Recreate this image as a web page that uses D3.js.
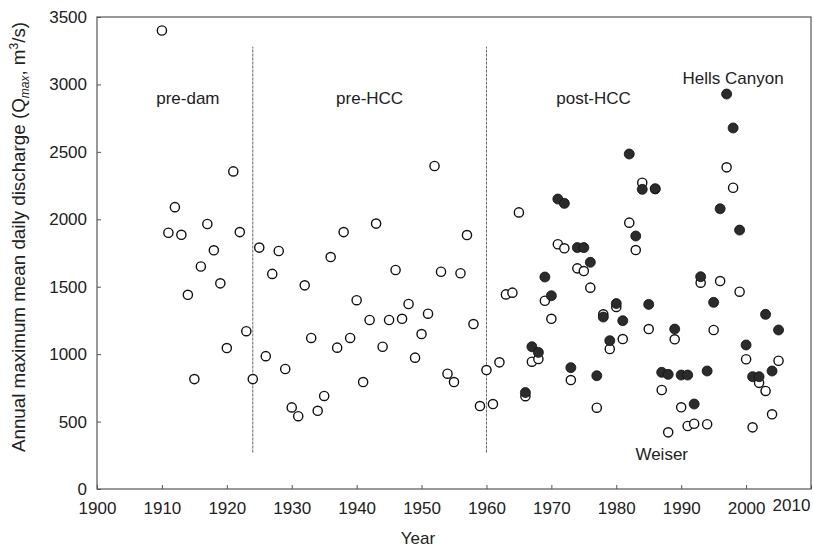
<!DOCTYPE html>
<html>
<head>
<meta charset="utf-8">
<script src="https://cdn.jsdelivr.net/npm/d3@7"></script>
<style>
    body { margin: 0; background: #fff; }
    svg text { font-family: "Liberation Sans", Arial, sans-serif; fill: #222; }
</style>
</head>
<body>
<svg id="chart" width="814" height="550"></svg>
<script>
// Weiser gauge (open circles), one value per year from 1910
var weiserStart = 1910;
var weiserValues = [
    3400, 1900, 2090, 1885, 1440, 815, 1650, 1965, 1770, 1525,   // 1910s
    1045, 2355, 1905, 1170, 815, 1790, 985, 1595, 1765, 890,     // 1920s
    605, 540, 1510, 1120, 580, 690, 1720, 1048, 1905, 1120,      // 1930s
    1400, 793, 1253, 1968, 1055, 1253, 1624, 1262, 1372, 974,    // 1940s
    1149, 1300, 2395, 1611, 855, 793, 1600, 1883, 1223, 615,     // 1950s
    882, 630, 939, 1443, 1456, 2051, 688, 944, 964, 1396,        // 1960s
    1262, 1815, 1785, 808, 1636, 1616, 1493, 603, 1295, 1038,    // 1970s
    1350, 1112, 1975, 1772, 2271, 1186, 2225, 734, 420, 1110,    // 1980s
    606, 467, 484, 1530, 480, 1179, 1542, 2385, 2234, 1463,      // 1990s
    962, 457, 787, 727, 554, 951                                 // 2000s
];

// Hells Canyon gauge (filled circles), one value per year from 1966
var hellsStart = 1966;
var hellsValues = [
    715, 1055, 1013, 1572,                                       // 1966-69
    1433, 2150, 2118, 900, 1790, 1790, 1681, 840, 1275, 1100,    // 1970s
    1375, 1248, 2484, 1876, 2222, 1369, 2227, 865, 850, 1186,    // 1980s
    845, 845, 630, 1574, 875, 1384, 2078, 2929, 2677, 1920,      // 1990s
    1068, 833, 833, 1295, 875, 1179                              // 2000s
];

// period boundaries and labels
var dividers = [1924, 1960];
var dividerRange = [270, 3280];
var periods = [
    { text: "pre-dam", year: 1914, value: 2855 },
    { text: "pre-HCC", year: 1942, value: 2855 },
    { text: "post-HCC", year: 1976.5, value: 2855 }
];
var seriesLabels = [
    { text: "Hells Canyon", year: 1998, value: 3000 },
    { text: "Weiser", year: 1987, value: 215 }
];

var xTicks = [1900, 1910, 1920, 1930, 1940, 1950, 1960, 1970, 1980, 1990, 2000, 2010];
var yTicks = [0, 500, 1000, 1500, 2000, 2500, 3000, 3500];

var plotLeft = 97, plotRight = 811, plotTop = 17, plotBottom = 489;

var svg = d3.select("#chart");

var x = d3.scaleLinear().domain([1900, 2010]).range([plotLeft, plotRight]);
var y = d3.scaleLinear().domain([0, 3500]).range([plotBottom, plotTop]);

// frame
svg.append("rect")
    .attr("x", plotLeft).attr("y", plotTop)
    .attr("width", plotRight - plotLeft).attr("height", plotBottom - plotTop)
    .attr("fill", "none")
    .attr("stroke", "#555")
    .attr("stroke-width", 1.2);

// x axis
var xAxis = svg.append("g")
    .attr("transform", "translate(0," + plotBottom + ")")
    .call(d3.axisBottom(x).tickValues(xTicks).tickFormat(d3.format("d"))
        .tickSizeInner(-4).tickSizeOuter(0).tickPadding(13));
xAxis.select(".domain").remove();
xAxis.selectAll("line").attr("stroke", "#555");
xAxis.selectAll("text")
    .attr("font-size", "17px")
    .attr("font-family", "Liberation Sans, Arial, sans-serif")
    .attr("fill", "#222")
    .attr("dx", function (d) { return d === 2010 ? -20 : 0; })
    .attr("dy", function (d) { return d === 2010 ? "0.5em" : "0.71em"; });

// y axis
var yAxis = svg.append("g")
    .attr("transform", "translate(" + plotLeft + ",0)")
    .call(d3.axisLeft(y).tickValues(yTicks).tickFormat(d3.format("d"))
        .tickSizeInner(-4).tickSizeOuter(0).tickPadding(10));
yAxis.select(".domain").remove();
yAxis.selectAll("line").attr("stroke", "#555");
yAxis.selectAll("text")
    .attr("font-size", "17px")
    .attr("font-family", "Liberation Sans, Arial, sans-serif")
    .attr("fill", "#222");

// axis titles
svg.append("text")
    .attr("x", 418)
    .attr("y", 544)
    .attr("text-anchor", "middle")
    .attr("font-size", "17px")
    .text("Year");

var yTitle = svg.append("text")
    .attr("transform", "translate(25,237) rotate(-90)")
    .attr("text-anchor", "middle")
    .attr("font-size", "18.8px");
yTitle.append("tspan").text("Annual maximum mean daily discharge (Q");
yTitle.append("tspan").attr("font-size", "12px").attr("font-style", "italic").attr("dy", 4).text("max");
yTitle.append("tspan").attr("dy", -4).text(", m");
yTitle.append("tspan").attr("font-size", "12px").attr("dy", -7).text("3");
yTitle.append("tspan").attr("dy", 7).text("/s)");

// period dividers
svg.selectAll("line.divider")
    .data(dividers)
    .enter()
    .append("line")
    .attr("class", "divider")
    .attr("x1", function (d) { return x(d); })
    .attr("x2", function (d) { return x(d); })
    .attr("y1", y(dividerRange[0]))
    .attr("y2", y(dividerRange[1]))
    .attr("stroke", "#666")
    .attr("stroke-width", 1)
    .attr("stroke-dasharray", "3,1");

// labels
svg.selectAll("text.period")
    .data(periods.concat(seriesLabels))
    .enter()
    .append("text")
    .attr("class", "period")
    .attr("x", function (d) { return x(d.year); })
    .attr("y", function (d) { return y(d.value); })
    .attr("text-anchor", "middle")
    .attr("font-size", "17px")
    .text(function (d) { return d.text; });

// points
var weiser = weiserValues.map(function (v, i) { return { year: weiserStart + i, value: v }; });
var hells = hellsValues.map(function (v, i) { return { year: hellsStart + i, value: v }; });

svg.selectAll("circle.weiser")
    .data(weiser)
    .enter()
    .append("circle")
    .attr("class", "weiser")
    .attr("cx", function (d) { return x(d.year); })
    .attr("cy", function (d) { return y(d.value); })
    .attr("r", 4.6)
    .attr("fill", "#fff")
    .attr("stroke", "#111")
    .attr("stroke-width", 1.4);

svg.selectAll("circle.hells")
    .data(hells)
    .enter()
    .append("circle")
    .attr("class", "hells")
    .attr("cx", function (d) { return x(d.year); })
    .attr("cy", function (d) { return y(d.value); })
    .attr("r", 5)
    .attr("fill", "#2b2b2b")
    .attr("stroke", "#111")
    .attr("stroke-width", 0.8);
</script>
</body>
</html>
